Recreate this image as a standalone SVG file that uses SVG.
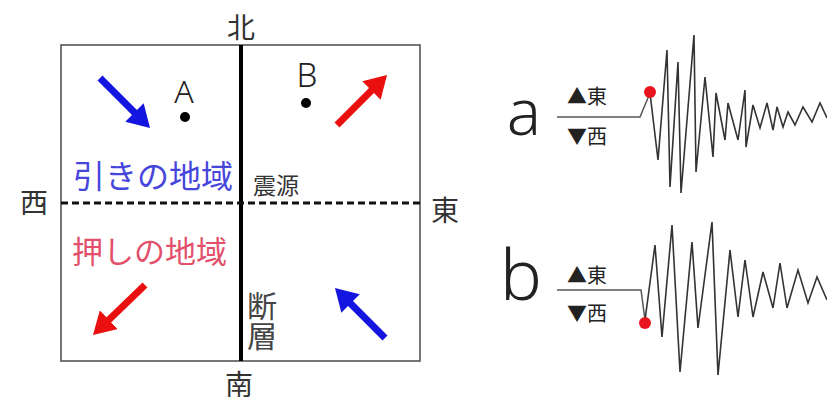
<svg xmlns="http://www.w3.org/2000/svg" width="827" height="402" viewBox="0 0 827 402">
<style>
.jp{font-family:"Noto Sans CJK JP","Noto Sans",sans-serif;}
.dir{font-size:28px;fill:#333;text-anchor:middle;}
.lat{font-family:"Noto Sans","Noto Sans CJK JP",sans-serif;font-weight:300;fill:#222;text-anchor:middle;}
.leg{font-size:20px;fill:#222;}
.wave{fill:none;stroke:#333;stroke-width:1.6;stroke-linejoin:miter;}
.axis{fill:none;stroke:#555;stroke-width:1.5;}
.shaftB{stroke:#1515e0;stroke-width:7;fill:none;}
.shaftR{stroke:#ea1010;stroke-width:7;fill:none;}
</style>
<defs>
<marker id="hb" markerUnits="userSpaceOnUse" markerWidth="22" markerHeight="26" viewBox="0 0 22 26" refX="6" refY="13" orient="auto">
<path d="M0,0 L22,13 L0,26 z" fill="#1515e0"/>
</marker>
<marker id="hr" markerUnits="userSpaceOnUse" markerWidth="22" markerHeight="26" viewBox="0 0 22 26" refX="6" refY="13" orient="auto">
<path d="M0,0 L22,13 L0,26 z" fill="#ea1010"/>
</marker>
</defs>
<rect width="827" height="402" fill="#fff"/>
<g id="map">
<rect x="61" y="45" width="359" height="316" fill="none" stroke="#555" stroke-width="1.6"/>
<line x1="241" y1="45" x2="241" y2="361" stroke="#000" stroke-width="4"/>
<line x1="61" y1="203" x2="420" y2="203" stroke="#111" stroke-width="3" stroke-dasharray="7,4"/>
</g>
<g id="labels" class="jp">
<text class="jp dir" x="241" y="38">北</text>
<text class="jp dir" x="34" y="213">西</text>
<text class="jp dir" x="445" y="221" font-size="29">東</text>
<text class="jp dir" x="239" y="395" font-size="27">南</text>
<text class="jp" x="73" y="188" font-size="32" fill="#4646dc">引きの地域</text>
<text class="jp" x="72" y="263" font-size="31" fill="#e2506c">押しの地域</text>
<text class="jp" x="253" y="194" font-size="23" fill="#333">震源</text>
<text class="jp" x="262" y="291" font-size="30" fill="#444" writing-mode="vertical-rl">断層</text>
</g>
<g id="pointA">
<text class="lat" x="184" y="103" font-size="32">A</text>
<circle cx="185" cy="117" r="5" fill="#000"/>
</g>
<g id="pointB">
<text class="lat" x="307" y="87" font-size="33">B</text>
<circle cx="306" cy="103" r="5" fill="#000"/>
</g>
<g id="arrows">
<line class="shaftB" x1="100" y1="78" x2="138.7" y2="116.7" marker-end="url(#hb)"/>
<line class="shaftR" x1="337" y1="125" x2="375.7" y2="86.3" marker-end="url(#hr)"/>
<line class="shaftR" x1="145" y1="285" x2="104.5" y2="323.9" marker-end="url(#hr)"/>
<line class="shaftB" x1="385" y1="338" x2="346.3" y2="299.3" marker-end="url(#hb)"/>
</g>
<g id="seismogramA">
<text class="lat" x="524" y="135" font-size="64">a</text>
<text class="jp leg" x="567" y="104">▲東</text>
<text class="jp leg" x="567" y="144">▼西</text>
<path class="axis" d="M557,117 L640,117 L650,93"/>
<path class="wave" d="M650,93 L658,160 L667,50 L670,187 L678,62 L681,193 L694,35 L696,172 L705,77 L713,157 L716,93 L725,140 L728,103 L738,140 L745,90 L746,147 L753,105 L760,128 L767,103 L773,130 L777,107 L783,127 L788,112 L795,125 L803,107 L812,122 L820,103 L827,118"/>
<circle cx="650" cy="92" r="6" fill="#e8141e"/>
</g>
<g id="seismogramB">
<text class="lat" x="521" y="300" font-size="70">b</text>
<text class="jp leg" x="567" y="283">▲東</text>
<text class="jp leg" x="567" y="321">▼西</text>
<path class="axis" d="M557,290 L641,290 L645,320"/>
<path class="wave" d="M645,320 L655,245 L662,337 L672,225 L680,372 L692,242 L698,328 L712,222 L718,375 L730,250 L738,317 L745,260 L753,317 L763,272 L773,308 L780,263 L787,308 L798,270 L808,303 L817,277 L827,300"/>
<circle cx="645" cy="323" r="6" fill="#e8141e"/>
</g>
</svg>
